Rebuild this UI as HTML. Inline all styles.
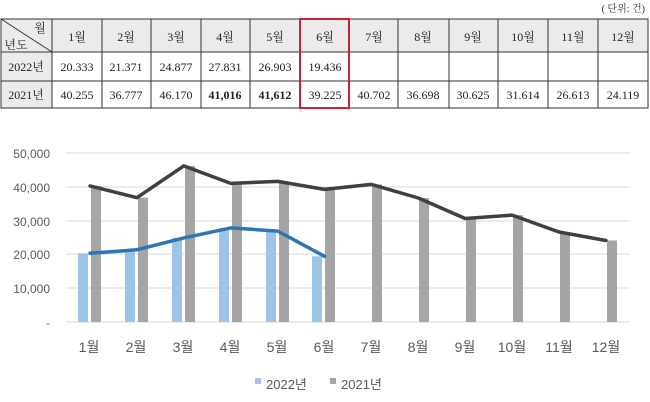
<!DOCTYPE html>
<html><head><meta charset="utf-8"><style>
body{margin:0;background:#fff;}
svg{display:block;font-family:"Liberation Serif","Noto Serif CJK SC",serif;}
.s{font-family:"Liberation Sans","Noto Sans CJK KR",sans-serif;}
</style></head><body>
<svg width="650" height="402" viewBox="0 0 650 402" xmlns="http://www.w3.org/2000/svg">
<text x="645" y="12" font-size="10" text-anchor="end" fill="#333">( 단위: 건)</text>
<rect x="1" y="19" width="647" height="33" fill="#ebebeb"/>
<rect x="1" y="52" width="51" height="56" fill="#ebebeb"/>
<g stroke="#333" stroke-width="1" fill="none">
<rect x="1" y="19" width="647" height="89"/>
<line x1="1" y1="52" x2="648" y2="52"/><line x1="1" y1="81" x2="648" y2="81"/>
<line x1="52" y1="19" x2="52" y2="108"/><line x1="102" y1="19" x2="102" y2="108"/>
<line x1="151" y1="19" x2="151" y2="108"/><line x1="201" y1="19" x2="201" y2="108"/>
<line x1="250" y1="19" x2="250" y2="108"/><line x1="300" y1="19" x2="300" y2="108"/>
<line x1="349" y1="19" x2="349" y2="108"/><line x1="398" y1="19" x2="398" y2="108"/>
<line x1="449" y1="19" x2="449" y2="108"/><line x1="498" y1="19" x2="498" y2="108"/>
<line x1="548" y1="19" x2="548" y2="108"/><line x1="598" y1="19" x2="598" y2="108"/>
<line x1="1" y1="19" x2="52" y2="52"/>
</g>
<rect x="300" y="19" width="49" height="89" fill="none" stroke="#c0282d" stroke-width="2"/>
<g font-size="12" fill="#222" text-anchor="middle">
<text x="40" y="32">월</text><text x="16" y="49">년도</text>
<text x="77" y="41">1월</text><text x="126" y="41">2월</text><text x="176" y="41">3월</text>
<text x="225" y="41">4월</text><text x="275" y="41">5월</text><text x="325" y="41">6월</text>
<text x="374" y="41">7월</text><text x="423" y="41">8월</text><text x="473" y="41">9월</text>
<text x="523" y="41">10월</text><text x="573" y="41">11월</text><text x="623" y="41">12월</text>
<text x="26" y="71">2022년</text><text x="26" y="99">2021년</text>
<text x="77" y="71">20.333</text><text x="126" y="71">21.371</text><text x="176" y="71">24.877</text>
<text x="225" y="71">27.831</text><text x="275" y="71">26.903</text><text x="325" y="71">19.436</text>
<text x="77" y="99">40.255</text><text x="126" y="99">36.777</text><text x="176" y="99">46.170</text>
<text x="225" y="99" font-weight="bold">41,016</text><text x="275" y="99" font-weight="bold">41,612</text><text x="325" y="99">39.225</text>
<text x="374" y="99">40.702</text><text x="423" y="99">36.698</text><text x="473" y="99">30.625</text>
<text x="523" y="99">31.614</text><text x="573" y="99">26.613</text><text x="623" y="99">24.119</text>
</g>
<g stroke="#d9d9d9" stroke-width="1">
<line x1="66" y1="153" x2="630" y2="153"/><line x1="66" y1="187" x2="630" y2="187"/>
<line x1="66" y1="221" x2="630" y2="221"/><line x1="66" y1="254" x2="630" y2="254"/>
<line x1="66" y1="288" x2="630" y2="288"/><line x1="66" y1="322" x2="630" y2="322"/>
</g>
<g class="s" font-size="12" fill="#595959" text-anchor="end">
<text x="50" y="158">50,000</text><text x="50" y="192">40,000</text><text x="50" y="226">30,000</text>
<text x="50" y="259">20,000</text><text x="50" y="293">10,000</text><text x="50" y="327">-</text>
</g>
<g fill="#9dc3e6">
<rect x="78" y="253.3" width="10" height="68.7"/><rect x="125" y="249.8" width="10" height="72.2"/>
<rect x="172" y="237.9" width="10" height="84.1"/><rect x="219" y="227.9" width="10" height="94.1"/>
<rect x="266" y="231.1" width="10" height="90.9"/><rect x="312" y="256.3" width="10" height="65.7"/>
</g>
<g fill="#a5a5a5">
<rect x="91" y="185.9" width="10" height="136.1"/><rect x="138" y="197.7" width="10" height="124.3"/>
<rect x="185" y="165.9" width="10" height="156.1"/><rect x="232" y="183.4" width="10" height="138.6"/>
<rect x="279" y="181.4" width="10" height="140.6"/><rect x="325" y="189.4" width="10" height="132.6"/>
<rect x="372" y="184.4" width="10" height="137.6"/><rect x="419" y="198" width="10" height="124"/>
<rect x="466" y="218.5" width="10" height="103.5"/><rect x="513" y="215.1" width="10" height="106.9"/>
<rect x="560" y="232" width="10" height="90"/><rect x="607" y="240.5" width="10" height="81.5"/>
</g>
<polyline fill="none" stroke="#404040" stroke-width="3.5" stroke-linejoin="round" stroke-linecap="round"
 points="90,185.9 136.9,197.7 183.8,165.9 230.7,183.4 277.6,181.4 324.5,189.4 371.4,184.4 418.3,198 465.2,218.5 512.1,215.1 559,232 605.9,240.5"/>
<polyline fill="none" stroke="#2e75b6" stroke-width="3.5" stroke-linejoin="round" stroke-linecap="round"
 points="90,253.3 136.9,249.8 183.8,237.9 230.7,227.9 277.6,231.1 324.5,256.3"/>
<g class="s" font-size="14" fill="#595959" text-anchor="middle">
<text x="89" y="352">1월</text><text x="136" y="352">2월</text><text x="183" y="352">3월</text>
<text x="230" y="352">4월</text><text x="277" y="352">5월</text><text x="324" y="352">6월</text>
<text x="371" y="352">7월</text><text x="418" y="352">8월</text><text x="465" y="352">9월</text>
<text x="512" y="352">10월</text><text x="559" y="352">11월</text><text x="606" y="352">12월</text>
</g>
<rect x="255" y="378" width="6" height="6" fill="#9dc3e6"/>
<rect x="330" y="378" width="6" height="6" fill="#a5a5a5"/>
<g class="s" font-size="13" fill="#595959">
<text x="266" y="389">2022년</text><text x="341" y="389">2021년</text>
</g>
</svg>
</body></html>
